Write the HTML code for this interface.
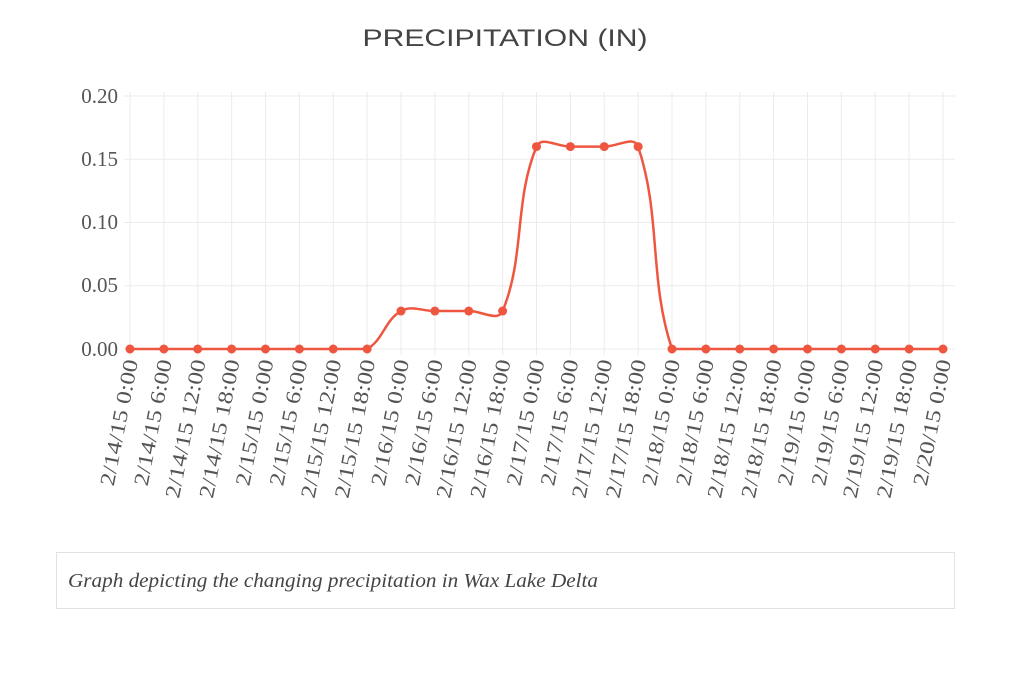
<!DOCTYPE html>
<html><head><meta charset="utf-8"><style>
html,body{margin:0;padding:0;background:#fff;width:1024px;height:685px;overflow:hidden}
</style></head><body>
<svg id="s" width="1024" height="685" xmlns="http://www.w3.org/2000/svg">
<text x="505" y="46" text-anchor="middle" font-family="Liberation Sans, sans-serif" font-size="24" fill="#444" textLength="285" lengthAdjust="spacingAndGlyphs">PRECIPITATION (IN)</text>
<g id="grid" stroke="#ebebeb" stroke-width="1"></g>
<g font-family="Liberation Serif, serif" font-size="21" fill="#555" text-anchor="end">
<text x="118" y="103">0.20</text>
<text x="118" y="166">0.15</text>
<text x="118" y="229">0.10</text>
<text x="118" y="292">0.05</text>
<text x="118" y="356">0.00</text>
</g>
<g id="xl" font-family="Liberation Serif, serif" font-size="21" fill="#555" text-anchor="end"></g>
<path id="line" fill="none" stroke="#ef5640" stroke-width="2.5"/>
<g id="pts" fill="#ef5640"></g>
<rect x="56.5" y="552.5" width="898" height="56" fill="#fff" stroke="#e2e2e2"/>
<text x="68" y="587" font-family="Liberation Serif, serif" font-style="italic" font-size="20" fill="#444" textLength="530" lengthAdjust="spacingAndGlyphs">Graph depicting the changing precipitation in Wax Lake Delta</text>
</svg>
<script>
var ns="http://www.w3.org/2000/svg";
var x0=130,dx=(943-130)/24,y0=349,yk=(349-96)/0.2;
var vals=[0,0,0,0,0,0,0,0,.03,.03,.03,.03,.16,.16,.16,.16,0,0,0,0,0,0,0,0,0];
var lbl=[];var hrs=["0:00","6:00","12:00","18:00"];
for(var i=0;i<25;i++){lbl.push("2/"+(14+Math.floor(i/4))+"/15 "+hrs[i%4]);}
var g=document.getElementById("grid"),xl=document.getElementById("xl"),pts=document.getElementById("pts");
function el(t,a,p){var e=document.createElementNS(ns,t);for(var k in a)e.setAttribute(k,a[k]);p.appendChild(e);return e;}
for(var j=0;j<5;j++){var y=96+j*(253/4);el("line",{x1:124,x2:955,y1:y,y2:y},g);}
var P=[];
for(var i=0;i<25;i++){var x=x0+i*dx;el("line",{x1:x,x2:x,y1:92,y2:355},g);
P.push([x,y0-vals[i]*yk]);
var t=el("text",{transform:"translate("+(x+8)+",361) rotate(-79) scale(1.2,1)"},xl);t.textContent=lbl[i];}
var tension=0.4,d="M"+P[0][0]+","+P[0][1];
function cp(a,b,c){var d01=Math.hypot(b[0]-a[0],b[1]-a[1]),d12=Math.hypot(c[0]-b[0],c[1]-b[1]);
var fa=tension*d01/(d01+d12),fb=tension*d12/(d01+d12);
return [[b[0]-fa*(c[0]-a[0]),Math.min(349,b[1]-fa*(c[1]-a[1]))],[b[0]+fb*(c[0]-a[0]),Math.min(349,b[1]+fb*(c[1]-a[1]))]];}
var C=[];for(var i=0;i<25;i++){var a=P[Math.max(0,i-1)],c=P[Math.min(24,i+1)];C.push(cp(a,P[i],c));}
for(var i=1;i<25;i++){var c1=C[i-1][1],c2=C[i][0];d+=" C"+c1[0]+","+c1[1]+" "+c2[0]+","+c2[1]+" "+P[i][0]+","+P[i][1];}
document.getElementById("line").setAttribute("d",d);
for(var i=0;i<25;i++)el("circle",{cx:P[i][0],cy:P[i][1],r:4.5},pts);
</script>
</body></html>
